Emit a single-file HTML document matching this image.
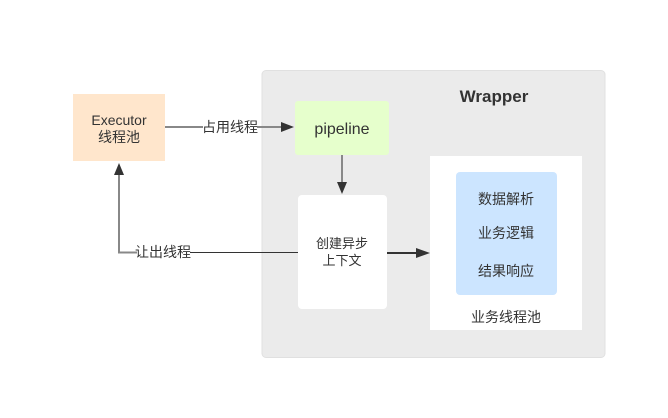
<!DOCTYPE html>
<html><head><meta charset="utf-8"><style>
body{margin:0;background:#fff;}
svg text{font-family:"Liberation Sans","Noto Sans CJK SC",sans-serif;fill:#333;}
</style></head><body>
<svg width="668" height="413" xmlns="http://www.w3.org/2000/svg">
<rect x="0" y="0" width="668" height="413" fill="#fff"/>
<rect x="262" y="70.5" width="343" height="287" rx="4" fill="#ebebeb" stroke="#e0e0e0"/>
<text x="494" y="102" font-size="17" font-weight="bold" text-anchor="middle">Wrapper</text>
<rect x="73" y="94" width="92" height="67" fill="#ffe6cc"/>
<text x="119" y="125" font-size="14" text-anchor="middle">Executor</text>
<text x="119" y="142" font-size="14" text-anchor="middle">线程池</text>
<rect x="295" y="101" width="94" height="54" rx="3" fill="#e6ffcc"/>
<text x="342" y="134" font-size="16" text-anchor="middle">pipeline</text>
<rect x="298" y="195" width="89" height="114" rx="4" fill="#fff"/>
<text x="342" y="248" font-size="13" text-anchor="middle">创建异步</text>
<text x="342" y="265" font-size="13" text-anchor="middle">上下文</text>
<rect x="430" y="156" width="152" height="174" fill="#fff"/>
<rect x="456" y="172" width="101" height="123" rx="4" fill="#cce5ff"/>
<text x="506" y="204" font-size="14" text-anchor="middle">数据解析</text>
<text x="506" y="238" font-size="14" text-anchor="middle">业务逻辑</text>
<text x="506" y="276" font-size="14" text-anchor="middle">结果响应</text>
<text x="506" y="322" font-size="14" text-anchor="middle">业务线程池</text>
<line x1="165" y1="127" x2="203" y2="127" stroke="#888" stroke-width="2"/>
<line x1="257" y1="127" x2="282" y2="127" stroke="#888" stroke-width="2"/>
<polygon points="281,122 294,127 281,132" fill="#333"/>
<text x="230" y="132" font-size="14" text-anchor="middle">占用线程</text>
<line x1="342" y1="155" x2="342" y2="183" stroke="#888" stroke-width="2"/>
<polygon points="337,182 342,194 347,182" fill="#333"/>
<line x1="387" y1="253" x2="418" y2="253" stroke="#333" stroke-width="2"/>
<polygon points="416,248 430,253 416,258" fill="#333"/>
<polyline points="298,252.5 190,252.5" stroke="#333" stroke-width="1" fill="none"/>
<polyline points="137,252.5 119,252.5 119,174" stroke="#888" stroke-width="2" fill="none"/>
<polygon points="114,175 119,163 124,175" fill="#333"/>
<text x="163" y="257" font-size="14" text-anchor="middle">让出线程</text>
</svg>
</body></html>
